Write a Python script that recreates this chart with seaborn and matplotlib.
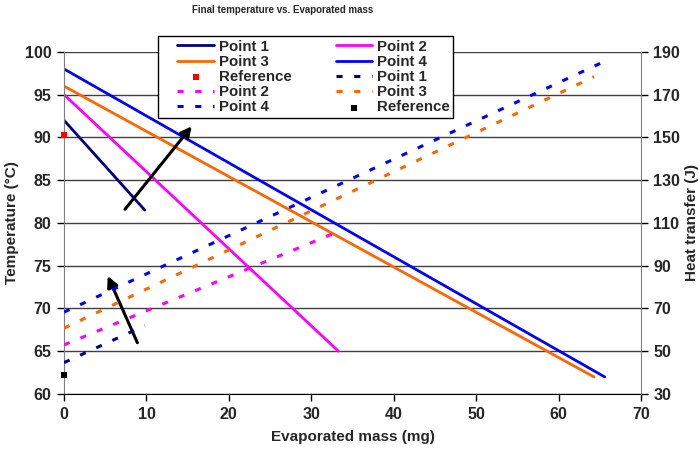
import matplotlib
matplotlib.use('Agg')
import matplotlib.pyplot as plt
from matplotlib.collections import PathCollection
from matplotlib.legend_handler import HandlerLine2D, HandlerPathCollection
from matplotlib.lines import Line2D
import pandas as pd
import seaborn as sns

# Temperature lines (left axis)
mass_p1 = [0, 9.8]
temp_p1 = [92, 81.5]
mass_p2 = [0, 33.3]
temp_p2 = [95, 65]
mass_p3 = [0, 64.3]
temp_p3 = [96, 62]
mass_p4 = [0, 65.6]
temp_p4 = [98, 62]
ref_mass = [0]
ref_temp = [90.3]

# Heat transfer lines (right axis)
hmass_p1 = [0, 9.8]
heat_p1 = [44.7, 62]
hmass_p2 = [0, 32.9]
heat_p2 = [53, 105.4]
hmass_p3 = [0, 64.3]
heat_p3 = [60.8, 178.4]
hmass_p4 = [0, 65.6]
heat_p4 = [68.3, 185.6]
ref_heat = [39]

# trend arrows (tail, head) in data coords of left axis
arrow_temp = ((7.4, 81.6), (15.5, 91.3))
arrow_heat = ((8.9, 66.0), (5.3, 73.8))

colors = {'Point 1': '#000080', 'Point 2': '#ff00ff', 'Point 3': '#ff6600', 'Point 4': '#0000ff'}

sns.set_style('white')
plt.rcParams['font.family'] = ['Liberation Sans', 'DejaVu Sans']
plt.rcParams['font.weight'] = 'bold'

fig = plt.figure(figsize=(6.99, 4.55), dpi=100)
ax = fig.add_axes([0.0916, 0.134, 0.8254, 0.752])
ax2 = ax.twinx()

handles = {}
for name, m, t in [('Point 1', mass_p1, temp_p1), ('Point 2', mass_p2, temp_p2),
                   ('Point 3', mass_p3, temp_p3), ('Point 4', mass_p4, temp_p4)]:
    sns.lineplot(x=m, y=t, ax=ax, color=colors[name], linewidth=2, legend=False)
    handles[name + ' solid'] = ax.lines[-1]
sns.scatterplot(x=ref_mass, y=ref_temp, ax=ax, color='red', marker='s', s=22,
                linewidth=0, legend=False, zorder=5, clip_on=False)
handles['ref red'] = ax.collections[-1]

for name, m, h in [('Point 1', hmass_p1, heat_p1), ('Point 2', hmass_p2, heat_p2),
                   ('Point 3', hmass_p3, heat_p3), ('Point 4', hmass_p4, heat_p4)]:
    sns.lineplot(x=m, y=h, ax=ax2, color=colors[name], linewidth=2.2, legend=False)
    ln = ax2.lines[-1]
    ln.set_dashes((2, 3.8))
    handles[name + ' dash'] = ln
sns.scatterplot(x=ref_mass, y=ref_heat, ax=ax2, color='black', marker='s', s=22,
                linewidth=0, legend=False, zorder=5, clip_on=False)
handles['ref black'] = ax2.collections[-1]

for (tail, head) in [arrow_temp, arrow_heat]:
    ax.annotate('', xy=head, xytext=tail,
                arrowprops=dict(arrowstyle='-|>', color='black', lw=2.2,
                                mutation_scale=16, shrinkA=0, shrinkB=0))

ax.set_xlim(0, 70)
ax.set_ylim(60, 100)
ax2.set_ylim(30, 190)
ax.set_xticks(range(0, 71, 10))
ax.set_yticks(range(60, 101, 5))
ax2.set_yticks(range(30, 191, 20))
ax.grid(axis='y', color='#404040', linewidth=1)
ax.grid(axis='x', visible=False)
ax2.grid(False)

for a in (ax, ax2):
    for s in a.spines.values():
        s.set_visible(False)
ax.spines['left'].set_visible(True)
ax.spines['left'].set_color('#808080')
ax.spines['bottom'].set_visible(True)
ax.spines['bottom'].set_color('black')
ax2.spines['right'].set_visible(True)
ax2.spines['right'].set_color('#808080')

ax.tick_params(axis='both', direction='out', length=5, width=1, color='black',
               labelsize=11.5, left=True, bottom=True, pad=4)
ax2.tick_params(axis='y', direction='out', length=5, width=1, color='black',
                labelsize=11.5, right=True, pad=4)
for lab in ax.get_xticklabels() + ax.get_yticklabels() + ax2.get_yticklabels():
    lab.set_fontweight('bold')

ax.set_xlabel('Evaporated mass (mg)', fontsize=11, fontweight='bold', labelpad=6)
ax.set_ylabel('Temperature (°C)', fontsize=11, fontweight='bold', labelpad=4)
ax2.set_ylabel('Heat transfer (J)', fontsize=11, fontweight='bold', labelpad=3)
fig.text(0.404, 0.977, 'Final temperature vs. Evaporated mass', fontsize=7,
         fontweight='bold', ha='center', va='center')

order = [('Point 1 solid', 'Point 1'), ('Point 3 solid', 'Point 3'), ('ref red', 'Reference'),
         ('Point 2 dash', 'Point 2'), ('Point 4 dash', 'Point 4'),
         ('Point 2 solid', 'Point 2'), ('Point 4 solid', 'Point 4'), ('Point 1 dash', 'Point 1'),
         ('Point 3 dash', 'Point 3'), ('ref black', 'Reference')]
hmap = {Line2D: HandlerLine2D(xpad=1.05), PathCollection: HandlerPathCollection(xpad=1.05)}
leg = fig.legend([handles[k] for k, _ in order], [lab for _, lab in order], ncol=2,
                 loc='upper left', bbox_to_anchor=(0.226, 0.921), frameon=True,
                 fancybox=False, edgecolor='black', framealpha=1,
                 prop={'size': 10.8, 'weight': 'bold'}, handlelength=3.5,
                 handletextpad=0.3, columnspacing=1.9, labelspacing=0.08,
                 borderpad=0.25, borderaxespad=0, handler_map=hmap)
leg.get_frame().set_linewidth(1)

fig.savefig('out.png', dpi=100)
